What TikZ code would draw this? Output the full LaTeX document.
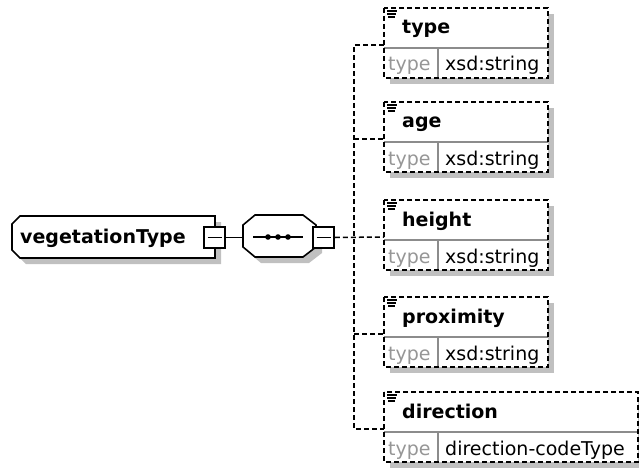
\documentclass[tikz,border=0pt]{standalone}
\usepackage{fontspec}
\setmainfont{DejaVu Sans}
\definecolor{shadowgray}{RGB}{192,192,192}
\definecolor{sepgray}{RGB}{140,140,140}
\definecolor{labelgray}{RGB}{150,150,150}
\tikzset{
  dashedline/.style={line width=1.5pt, dash pattern=on 5pt off 3pt},
  solidline/.style={line width=1.6pt},
  nametext/.style={font=\bfseries\fontsize{19}{21}\selectfont, anchor=base west, inner sep=0pt},
  valtext/.style={font=\fontsize{19}{21}\selectfont, anchor=base west, inner sep=0pt},
  labeltext/.style={valtext, text=labelgray},
  minusbox/.style={draw, fill=white, line width=1.6pt, minimum size=21pt, inner sep=0pt},
}
\newcommand\xsdchild[5]{% #1 id, #2 top, #3 name, #4 value, #5 right edge
  \pgfmathsetmacro\chTop{#2}
  \pgfmathsetmacro\chSep{#2+40}
  \pgfmathsetmacro\chBot{#2+70}
  \pgfmathsetmacro\chIn{#2+37}
  \fill[shadowgray] (390,\chTop+6) rectangle (#5+6,\chBot+6);
  \fill[white] (384,\chTop) rectangle (#5,\chBot);
  \draw[sepgray, line width=1.2pt] (384,\chSep) -- (#5,\chSep);
  \draw[sepgray, line width=1.2pt] (438,\chSep) -- (438,\chBot);
  \draw[dashedline] (384,\chTop) rectangle (#5,\chBot);
  \draw[line width=1.1pt] (387,\chTop+3) -- (397,\chTop+3);
  \draw[line width=1.1pt] (387,\chTop+6) -- (396,\chTop+6);
  \draw[line width=1.1pt] (388,\chTop+9) -- (395,\chTop+9);
  \node[nametext] (#1-name) at (402,\chSep-14) {#3};
  \node[labeltext] (#1-lab) at (388,\chSep+23) {type};
  \node[valtext] (#1-val) at (445,\chSep+23) {#4};
  \coordinate (#1-in) at (384,\chIn);
}
\begin{document}
\begin{tikzpicture}[x=1pt, y=-1pt]
\useasboundingbox (0,0) rectangle (639,468);
\fill[white] (0,0) rectangle (639,468);

% root element
\fill[shadowgray] (18,230) -- (26,222) -- (221,222) -- (221,264) -- (26,264) -- (18,256) -- cycle;
\draw[solidline, fill=white] (12,224) -- (20,216) -- (215,216) -- (215,258) -- (20,258) -- (12,250) -- cycle;
\node[nametext] (root) at (20,243) {vegetationType};
\node[minusbox] (rootminus) at (214.5,237.5) {};
\draw[line width=1.3pt] ([xshift=-7pt]rootminus.center) -- ([xshift=7pt]rootminus.center);

% sequence compositor
\coordinate (seq-in) at (243,237.5);
\fill[shadowgray] (249,231) -- (261,221) -- (309,221) -- (322,231) -- (322,253) -- (309,263) -- (261,263) -- (249,253) -- cycle;
\draw[solidline, fill=white] (243,225) -- (255,215) -- (303,215) -- (316,225) -- (316,247) -- (303,257) -- (255,257) -- (243,247) -- cycle;
\draw[line width=1.3pt] (253,237) -- (303,237);
\fill (268,237) circle (2.8);
\fill (278,237) circle (2.8);
\fill (288,237) circle (2.8);
\node[minusbox] (seqminus) at (323.5,237.5) {};
\draw[line width=1.3pt] ([xshift=-7pt]seqminus.center) -- ([xshift=7pt]seqminus.center);
\draw[solidline] (rootminus.east) -- (seq-in);

% children
\xsdchild{type}{8}{type}{xsd:string}{548}
\xsdchild{age}{102}{age}{xsd:string}{548}
\xsdchild{height}{200}{height}{xsd:string}{548}
\xsdchild{prox}{297}{proximity}{xsd:string}{548}
\xsdchild{dir}{392}{direction}{direction-codeType}{638}

% connectors
\coordinate (trunk) at (354,237);
\draw[dashedline] (type-in) -- (type-in -| trunk) -- (dir-in -| trunk) -- (dir-in);
\draw[dashedline] (age-in -| trunk) -- (age-in);
\draw[dashedline] (prox-in -| trunk) -- (prox-in);
\draw[dashedline] (seqminus.east) -- (height-in);
\end{tikzpicture}
\end{document}
